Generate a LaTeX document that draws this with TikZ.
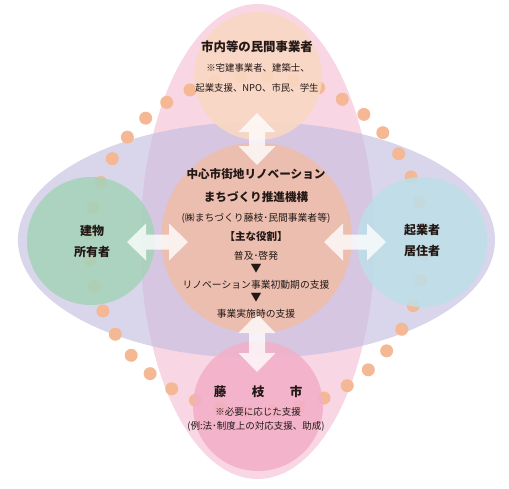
\documentclass[tikz,border=0pt]{standalone}
\usepackage{fontspec}
\newfontfamily\jp{Noto Sans CJK JP}
\definecolor{pinkell}{RGB}{248,214,228}
\definecolor{purpell}{RGB}{196,190,224}
\definecolor{dotc}{RGB}{245,184,148}
\definecolor{topc}{RGB}{250,216,194}
\definecolor{cenc}{RGB}{238,190,170}
\definecolor{grnc}{RGB}{166,211,186}
\definecolor{bluc}{RGB}{190,222,232}
\definecolor{botc}{RGB}{243,176,200}
\definecolor{txt}{RGB}{35,24,21}
\tikzset{
  circ/.style={fill opacity=0.88},
  arrowfill/.style={fill=white, fill opacity=0.78},
  lab/.style={text=txt, align=center, inner sep=0pt, font=\jp},
}
\newcommand\dblarrowH[3]{% y, x1, x2
  \fill[arrowfill] (#2,#1) -- ({#2+19},{#1-18.5}) -- ({#2+19},{#1-7.5}) -- ({#3-19},{#1-7.5}) -- ({#3-19},{#1-18.5}) -- (#3,#1) -- ({#3-19},{#1+18.5}) -- ({#3-19},{#1+7.5}) -- ({#2+19},{#1+7.5}) -- ({#2+19},{#1+18.5}) -- cycle;}
\newcommand\dblarrowV[3]{% x, y1, y2
  \fill[arrowfill] (#1,#2) -- ({#1-18.5},{#2+19}) -- ({#1-8},{#2+19}) -- ({#1-8},{#3-19}) -- ({#1-18.5},{#3-19}) -- (#1,#3) -- ({#1+18.5},{#3-19}) -- ({#1+8},{#3-19}) -- ({#1+8},{#2+19}) -- ({#1+18.5},{#2+19}) -- cycle;}
\begin{document}
\begin{tikzpicture}[x=1pt,y=-1pt]
\useasboundingbox (0,0) rectangle (509,488);
% ellipses
\fill[pinkell] (257.5,241.5) ellipse[x radius=117, y radius=237.5];
\fill[purpell, fill opacity=0.65] (256.5,240) ellipse[x radius=238.5, y radius=118];
% dots ring
\foreach \a in {0,...,39}{
  \fill[dotc] ({257+168*cos(5.5+9*\a)},{244-168*sin(5.5+9*\a)}) circle[radius=6.5];
}
% circles
\fill[topc, circ] (258,76) circle[radius=64];
\fill[cenc, circ] (256.5,238) circle[radius=95.5];
\fill[grnc, circ] (91,241) circle[radius=64];
\fill[bluc, circ] (422,242) circle[radius=65];
\fill[botc, circ] (258,406) circle[radius=65];
% arrows
\dblarrowV{257}{113}{165}
\dblarrowV{257}{314}{372}
\dblarrowH{242}{127}{188}
\dblarrowH{242}{324}{386}
% top text
\node[lab, font=\jp\bfseries\fontsize{12.4}{13}\selectfont] (t1) at (257,47) {市内等の民間事業者};
\node[lab, font=\jp\fontsize{9.4}{10}\selectfont] (t2) at (258,68) {※宅建事業者、建築士、};
\node[lab, font=\jp\fontsize{9.4}{10}\selectfont] (t3) at (257,88) {起業支援、NPO、市民、学生};
% center text
\node[lab, font=\jp\bfseries\fontsize{11.6}{12}\selectfont] (c1) at (256,174) {中心市街地リノベーション};
\node[lab, font=\jp\bfseries\fontsize{11.6}{12}\selectfont] (c2) at (256,197) {まちづくり推進機構};
\node[lab, font=\jp\fontsize{9.8}{10}\selectfont] (c3) at (256,218) {(㈱まちづくり藤枝･民間事業者等)};
\node[lab, font=\jp\bfseries\fontsize{10.5}{11}\selectfont] (c4) at (256,237) {【主な役割】};
\node[lab, font=\jp\fontsize{9.8}{10}\selectfont] (c5) at (256,256) {普及･啓発};
\node[lab, font=\jp\fontsize{11}{12}\selectfont] (c6) at (256,269) {▼};
\node[lab, font=\jp\fontsize{9.8}{10}\selectfont] (c7) at (256,285) {リノベーション事業初動期の支援};
\node[lab, font=\jp\fontsize{11}{12}\selectfont] (c8) at (256,298) {▼};
\node[lab, font=\jp\fontsize{9.8}{10}\selectfont] (c9) at (256,314) {事業実施時の支援};
% left / right
\node[lab, font=\jp\bfseries\fontsize{12}{13}\selectfont] (l1) at (92,231) {建物};
\node[lab, font=\jp\bfseries\fontsize{12}{13}\selectfont] (l2) at (92,252) {所有者};
\node[lab, font=\jp\bfseries\fontsize{12}{13}\selectfont] (r1) at (422,230) {起業者};
\node[lab, font=\jp\bfseries\fontsize{12}{13}\selectfont] (r2) at (422,251) {居住者};
% bottom
\node[lab, font=\jp\bfseries\fontsize{12.5}{13}\selectfont] (b1a) at (220,392) {藤};
\node[lab, font=\jp\bfseries\fontsize{12.5}{13}\selectfont] (b1b) at (258,392) {枝};
\node[lab, font=\jp\bfseries\fontsize{12.5}{13}\selectfont] (b1c) at (296,392) {市};
\node[lab, font=\jp\fontsize{9.5}{10}\selectfont] (b2) at (258,412) {※必要に応じた支援};
\node[lab, font=\jp\fontsize{9.5}{10}\selectfont] (b3) at (256,426) {(例:法･制度上の対応支援、助成)};
\end{tikzpicture}
\end{document}
